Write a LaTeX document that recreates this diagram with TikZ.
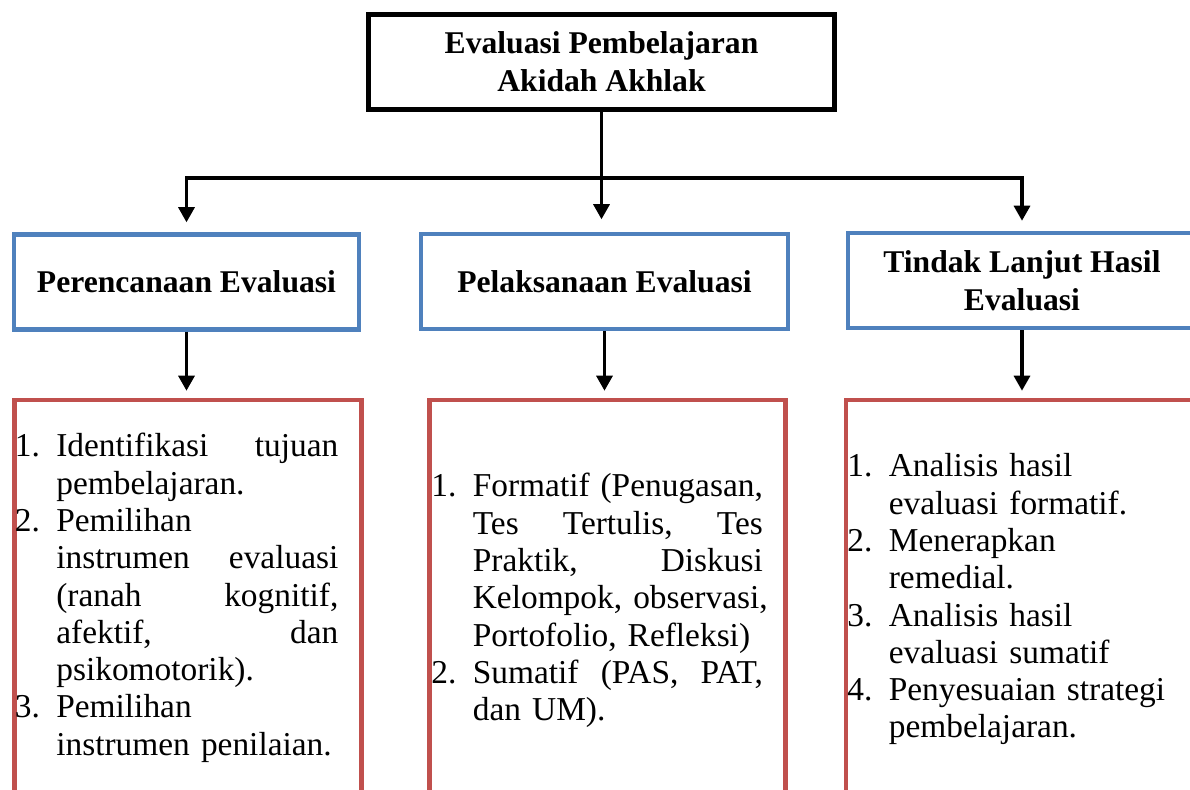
\documentclass[tikz,border=0pt]{standalone}
\usepackage{fontspec}
\setmainfont{Liberation Serif}
\usetikzlibrary{arrows.meta}
\definecolor{stageblue}{HTML}{4F81BD}
\definecolor{itemred}{HTML}{C0504D}
\def\nr#1{\makebox[0.83cm][l]{#1}}
\def\jl#1#2{\hbox to #1{#2}}
\tikzset{
	mainbox/.style={draw=black, line width=3.1pt, minimum width=9.31cm, minimum height=1.89cm, align=center, font=\fontsize{18}{21.5}\selectfont\bfseries},
	stagebox/.style={draw=stageblue, line width=2.55pt, minimum height=1.9cm, align=center, font=\fontsize{18}{21.5}\selectfont\bfseries},
	itembox/.style={draw=itemred, line width=2.6pt, minimum height=8.4cm},
	itemtext/.style={anchor=base west, inner sep=0pt, text width=7cm, align=left, font=\fontsize{19}{21.2}\selectfont},
	arr/.style={line width=1.8pt, -{Triangle[length=0.3cm, width=0.32cm]}},
}

\begin{document}
\begin{tikzpicture}
		%%%%% START %%%%%
		\useasboundingbox (0, 0) rectangle (23.8, 15.8);
		\clip (0, 0) rectangle (23.8, 15.8);
		
		\node[mainbox] (eval) at (12.03, 14.56) {Evaluasi Pembelajaran\\Akidah Akhlak};
		\coordinate (bar) at (12.03, 12.24);
		
		\node[stagebox, minimum width=6.89cm] (plan) at (3.73, 10.16) {Perencanaan Evaluasi};
		\node[stagebox, minimum width=7.33cm] (exec) at (12.09, 10.17) {Pelaksanaan Evaluasi};
		\node[stagebox, minimum width=6.95cm] (follow) at (20.44, 10.19) {Tindak Lanjut Hasil\\Evaluasi};
		
		\node[itembox, minimum width=6.94cm] (planbox) at (3.76, 3.6) {};
		\node[itembox, minimum width=7.11cm] (execbox) at (12.15, 3.6) {};
		\node[itembox, minimum width=6.94cm] (followbox) at (20.39, 3.6) {};
		
		\draw[arr, shorten >=0.25cm] (eval.south) -- (eval.south |- exec.north);
		\draw[arr, shorten >=0.2cm] (bar) -| (plan.north);
		\draw[arr, shorten >=0.2cm] (bar) -| (follow.north);
		
		\draw[arr, shorten >=0.14cm] (plan.south) -- (plan.south |- planbox.north);
		\draw[arr, shorten >=0.14cm] (exec.south) -- (exec.south |- execbox.north);
		\draw[arr, shorten >=0.14cm] (follow.south) -- (follow.south |- followbox.north);
		
		\node[itemtext] (planlist) at (0.29, 6.66) {%
			\nr{1.}\jl{5.64cm}{Identifikasi\hfill tujuan}\\
			\nr{}pembelajaran.\\
			\nr{2.}Pemilihan\\
			\nr{}\jl{5.64cm}{instrumen\hfill evaluasi}\\
			\nr{}\jl{5.64cm}{(ranah\hfill kognitif,}\\
			\nr{}\jl{5.64cm}{afektif,\hfill dan}\\
			\nr{}psikomotorik).\\
			\nr{3.}Pemilihan\\
			\nr{}instrumen penilaian.};
		
		\node[itemtext] (execlist) at (8.62, 5.86) {%
			\nr{1.}\jl{5.8cm}{Formatif\hfill (Penugasan,}\\
			\nr{}\jl{5.8cm}{Tes\hfill Tertulis,\hfill Tes}\\
			\nr{}\jl{5.8cm}{Praktik,\hfill Diskusi}\\
			\nr{}Kelompok, observasi,\\
			\nr{}Portofolio, Refleksi)\\
			\nr{2.}\jl{5.8cm}{Sumatif\hfill (PAS,\hfill PAT,}\\
			\nr{}dan UM).};
		
		\node[itemtext] (followlist) at (16.94, 6.26) {%
			\nr{1.}Analisis hasil\\
			\nr{}evaluasi formatif.\\
			\nr{2.}Menerapkan\\
			\nr{}remedial.\\
			\nr{3.}Analisis hasil\\
			\nr{}evaluasi sumatif\\
			\nr{4.}Penyesuaian strategi\\
			\nr{}pembelajaran.};
		%%%%% END %%%%%
	\end{tikzpicture}
\end{document}
